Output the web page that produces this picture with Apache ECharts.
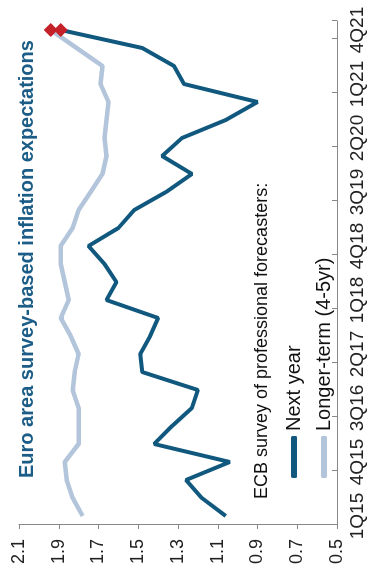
<!DOCTYPE html>
<html>
<head>
<meta charset="utf-8">
<script src="https://cdn.jsdelivr.net/npm/echarts@6/dist/echarts.min.js"></script>
<style>
html,body{margin:0;padding:0;background:#fff;overflow:hidden;width:377px;height:573px;}
#chart{position:absolute;left:0;top:0;width:573px;height:377px;transform-origin:0 0;transform:translateY(573px) rotate(-90deg);}
</style>
</head>
<body>
<div id="chart"></div>
<script>
const categories = ['1Q15','2Q15','3Q15','4Q15','1Q16','2Q16','3Q16','4Q16','1Q17','2Q17','3Q17','4Q17','1Q18','2Q18','3Q18','4Q18','1Q19','2Q19','3Q19','4Q19','1Q20','2Q20','3Q20','4Q20','1Q21','2Q21','3Q21','4Q21'];
const nextYear = [1.06, 1.18, 1.26, 1.04, 1.42, 1.33, 1.23, 1.20, 1.48, 1.49, 1.44, 1.40, 1.66, 1.61, 1.67, 1.75, 1.60, 1.52, 1.36, 1.23, 1.38, 1.28, 1.06, 0.90, 1.27, 1.32, 1.48, 1.89];
const longerTerm = [1.78, 1.83, 1.86, 1.87, 1.80, 1.80, 1.80, 1.83, 1.82, 1.80, 1.84, 1.89, 1.85, 1.87, 1.89, 1.89, 1.83, 1.80, 1.74, 1.68, 1.66, 1.67, 1.66, 1.65, 1.69, 1.68, 1.81, 1.94];
const valueMin = 0.5, valueMax = 2.1, valueStep = 0.2;

const FONT = '"Liberation Sans", Arial, sans-serif';
const DARK = '#11587f', LIGHT = '#b3c5db', RED = '#c52128';

function withLastMarker(arr) {
  return arr.map((v, i) => i === arr.length - 1
    ? { value: v, symbol: 'diamond', symbolSize: 14, itemStyle: { color: RED } }
    : v);
}

const chart = echarts.init(document.getElementById('chart'), null, { renderer: 'canvas', width: 573, height: 377 });
chart.setOption({
  animation: false,
  backgroundColor: '#fff',
  title: [
    { text: 'Euro area survey-based inflation expectations', left: 90, top: 12,
      textStyle: { fontFamily: FONT, fontSize: 20, fontWeight: 'bold', color: '#1b5d87' } },
    { text: 'ECB survey of professional forecasters:', left: 69, top: 248,
      textStyle: { fontFamily: FONT, fontSize: 18, fontWeight: 'normal', color: '#111' } }
  ],
  legend: {
    orient: 'vertical', left: 90, top: 279, itemGap: 10,
    itemWidth: 42, itemHeight: 6, icon: 'roundRect',
    textStyle: { fontFamily: FONT, fontSize: 20, color: '#111' },
    data: ['Next year', 'Longer-term (4-5yr)']
  },
  grid: { left: 48, right: 21, top: 19, bottom: 40, containLabel: false },
  xAxis: {
    type: 'category', data: categories, boundaryGap: true,
    axisLine: { lineStyle: { color: '#888', width: 1 } },
    axisTick: { show: true, inside: true, length: 5, interval: 2, lineStyle: { color: '#888' } },
    axisLabel: { interval: 2, margin: 11, fontFamily: FONT, fontSize: 19, color: '#222' },
    splitLine: { show: false }
  },
  yAxis: {
    type: 'value', min: valueMin, max: valueMax, interval: valueStep,
    axisLine: { show: true, lineStyle: { color: '#888', width: 1 } },
    axisTick: { show: true, inside: false, length: 4, lineStyle: { color: '#888' } },
    axisLabel: { margin: 14, fontFamily: FONT, fontSize: 18, color: '#222', formatter: v => v.toFixed(1) },
    splitLine: { show: false }
  },
  series: [
    { name: 'Longer-term (4-5yr)', type: 'line', data: withLastMarker(longerTerm),
      symbol: 'none', showSymbol: true, z: 2,
      lineStyle: { color: LIGHT, width: 4.5 }, itemStyle: { color: LIGHT } },
    { name: 'Next year', type: 'line', data: withLastMarker(nextYear),
      symbol: 'none', showSymbol: true, z: 3,
      lineStyle: { color: DARK, width: 4 }, itemStyle: { color: DARK } }
  ]
});
</script>
</body>
</html>
